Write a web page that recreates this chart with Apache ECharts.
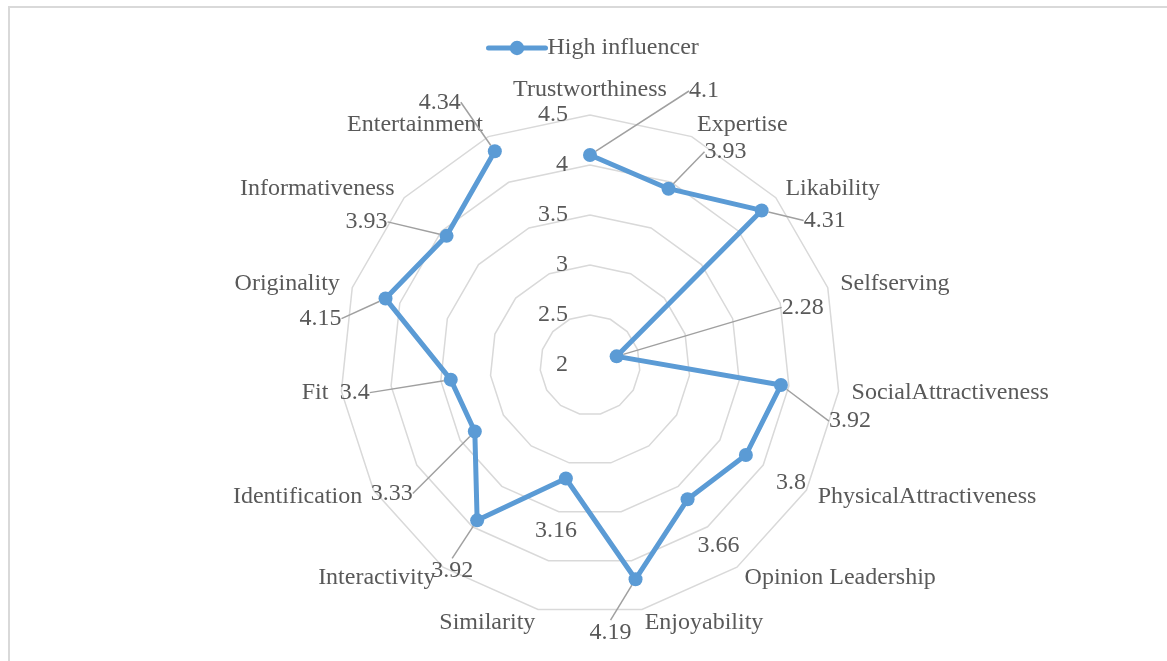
<!DOCTYPE html>
<html><head><meta charset="utf-8">
<script src="https://cdn.jsdelivr.net/npm/echarts@6/dist/echarts.min.js"></script>
<style>
html,body{margin:0;padding:0;background:#fff;overflow:hidden;width:1167px;height:661px}
#frame{position:absolute;left:8px;top:6px;width:1200px;height:700px;border:2px solid #d9d9d9;box-sizing:border-box}
#chart{position:absolute;left:0;top:0;width:1167px;height:661px}
</style>
</head><body><div id="frame"></div><div id="chart"></div>
<script>
const seriesName = 'High influencer';
const categories = ['Trustworthiness','Expertise','Likability','Selfserving','SocialAttractiveness','PhysicalAttractiveness','Opinion Leadership','Enjoyability','Similarity','Interactivity','Identification','Fit','Originality','Informativeness','Entertainment'];
const values = [4.1, 3.93, 4.31, 2.28, 3.92, 3.8, 3.66, 4.19, 3.16, 3.92, 3.33, 3.4, 4.15, 3.93, 4.34];
const axisMin = 2, axisMax = 4.5, axisSplits = 5;
const tickLabels = ['2','2.5','3','3.5','4','4.5'];

// label placement (style): offset of each value label from its point, and whether a leader line is drawn
const labelOffsets = [[114,-64],[57,-37],[63,10],[186,-49],[69,36],[45,28],[31,46],[-25,53],[-10,52],[-25,50],[-83,62],[-96,13],[-65,20],[-80,-14],[-55,-49]];
const noLeader = [5, 6, 8];

const FONT = 'Liberation Serif';
const TXT = '#595959';
const BLUE = '#5b9bd5';

// radar component draws counter-clockwise: reorder so indicators appear clockwise
const order = [0];
for (let i = categories.length - 1; i >= 1; i--) order.push(i);
const indicators = order.map((idx, k) => {
  const o = { name: categories[idx], min: axisMin, max: axisMax };
  if (k === 0) {
    o.axisLabel = { show: true, color: TXT, fontSize: 24, fontFamily: FONT, margin: 22,
      formatter: (v) => { const i = Math.round((v - axisMin) / ((axisMax - axisMin) / axisSplits)); return tickLabels[i] != null ? tickLabels[i] : v; } };
  }
  return o;
});

const lineData = values.map((v, i) => {
  const d = { value: [v, categories[i]] };
  if (noLeader.indexOf(i) >= 0) d.labelLine = { show: false };
  return d;
});
lineData.push({ value: [values[0], categories[0]], symbol: 'none', label: { show: false }, labelLine: { show: false } });

const chart = echarts.init(document.getElementById('chart'), null, { renderer: 'canvas' });
chart.setOption({
  animation: false,
  backgroundColor: 'transparent',
  legend: {
    left: 481, top: 31,
    itemWidth: 57, itemHeight: 18, itemGap: 10,
    lineStyle: { width: 5, cap: 'round' },
    textStyle: { color: TXT, fontSize: 24, fontFamily: FONT, padding: [0, 0, 0, -3] },
    data: [seriesName]
  },
  radar: {
    center: [590, 365], radius: 250,
    startAngle: 90,
    splitNumber: axisSplits,
    shape: 'polygon',
    nameGap: 13,
    axisName: { color: TXT, fontSize: 24, fontFamily: FONT },
    axisLine: { show: false },
    axisTick: { show: false },
    axisLabel: { show: false },
    splitArea: { show: false },
    splitLine: { lineStyle: { color: '#d9d9d9', width: 1.5 } },
    indicator: indicators
  },
  polar: { center: [590, 365], radius: 250 },
  angleAxis: { type: 'category', data: categories, startAngle: 90, clockwise: true, boundaryGap: false, show: false },
  radiusAxis: { type: 'value', min: axisMin, max: axisMax, show: false },
  series: [{
    type: 'line', coordinateSystem: 'polar', name: seriesName,
    data: lineData,
    symbol: 'circle', symbolSize: 14,
    lineStyle: { width: 5, color: BLUE, cap: 'round', join: 'round' },
    itemStyle: { color: BLUE },
    z: 5,
    label: { show: true, position: 'inside', formatter: (p) => String(p.value[0]), color: TXT, fontSize: 24, fontFamily: FONT },
    labelLine: { show: true, lineStyle: { color: '#a0a0a0', width: 1.5 } },
    labelLayout: (p) => { const o = labelOffsets[p.dataIndex] || [0, 0]; return { dx: o[0], dy: o[1] }; }
  }]
});
</script>
</body></html>
